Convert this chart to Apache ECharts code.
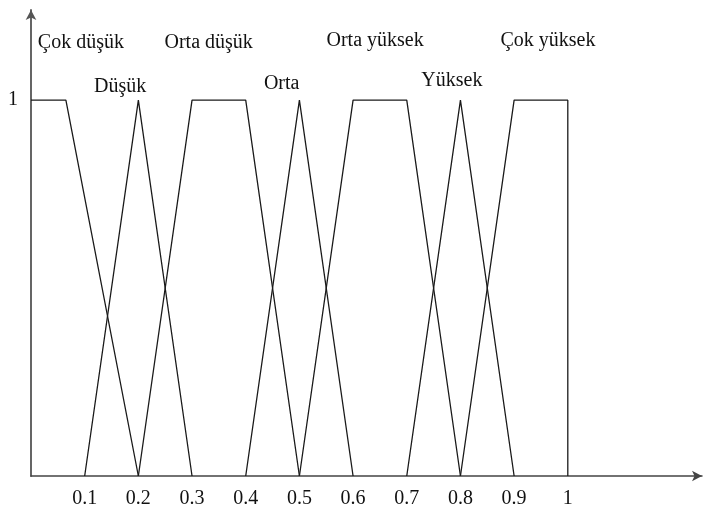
<!DOCTYPE html>
<html>
<head>
<meta charset="utf-8">
<script src="https://cdn.jsdelivr.net/npm/echarts@6/dist/echarts.min.js"></script>
<style>
  html, body { margin: 0; padding: 0; background: #fff; }
  #chart { width: 705px; height: 509px; }
</style>
</head>
<body>
<div id="chart"></div>
<script>
// üyelik fonksiyonları (x, üyelik derecesi)
var setNames = ["Çok düşük", "Düşük", "Orta düşük", "Orta", "Orta yüksek", "Yüksek", "Çok yüksek"];
var cokDusuk = [[0, 1], [0.065, 1], [0.2, 0]];
var dusuk = [[0.1, 0], [0.2, 1], [0.3, 0]];
var ortaDusuk = [[0.2, 0], [0.3, 1], [0.4, 1], [0.5, 0]];
var orta = [[0.4, 0], [0.5, 1], [0.6, 0]];
var ortaYuksek = [[0.5, 0], [0.6, 1], [0.7, 1], [0.8, 0]];
var yuksek = [[0.7, 0], [0.8, 1], [0.9, 0]];
var cokYuksek = [[0.8, 0], [0.9, 1], [1, 1], [1, 0]];
var xTicks = [0.1, 0.2, 0.3, 0.4, 0.5, 0.6, 0.7, 0.8, 0.9, 1];
var yTicks = [1];

// etiketlerin yeri (veri koordinatı)
var labelPos = [[0.093, 1.152], [0.166, 1.035], [0.331, 1.152], [0.467, 1.045],
                [0.641, 1.157], [0.784, 1.053], [0.963, 1.157]];

var allData = [cokDusuk, dusuk, ortaDusuk, orta, ortaYuksek, yuksek, cokYuksek];
var font = "'Liberation Serif', 'DejaVu Serif', serif";

var series = allData.map(function (d, i) {
  return {
    name: setNames[i],
    type: "line",
    data: d,
    symbol: "none",
    silent: true,
    lineStyle: { color: "#1a1a1a", width: 1.3 },
    markPoint: {
      symbol: "circle",
      symbolSize: 0,
      data: [{ coord: labelPos[i], value: setNames[i] }],
      label: {
        show: true,
        position: "inside",
        formatter: setNames[i],
        color: "#111",
        fontFamily: font,
        fontSize: 20
      }
    }
  };
});

var chart = echarts.init(document.getElementById("chart"));
chart.setOption({
  animation: false,
  grid: { left: 31, right: 3, top: 10, bottom: 33 },
  xAxis: {
    type: "value",
    min: 0,
    max: 1.25,
    splitLine: { show: false },
    axisTick: { show: false },
    axisLine: {
      onZero: false,
      symbol: ["none", "arrow"],
      symbolSize: [8, 10],
      lineStyle: { color: "#444", width: 1.5 }
    },
    axisLabel: {
      customValues: xTicks,
      formatter: function (v) { return String(v); },
      color: "#111",
      fontFamily: font,
      fontSize: 20,
      margin: 13
    }
  },
  yAxis: {
    type: "value",
    min: 0,
    max: 1.24,
    splitLine: { show: false },
    axisTick: { show: false },
    axisLine: {
      show: true,
      symbol: ["none", "arrow"],
      symbolSize: [8, 10],
      lineStyle: { color: "#555", width: 1.8 }
    },
    axisLabel: {
      customValues: yTicks,
      color: "#111",
      fontFamily: font,
      fontSize: 20,
      margin: 13
    }
  },
  series: series
});
</script>
</body>
</html>
